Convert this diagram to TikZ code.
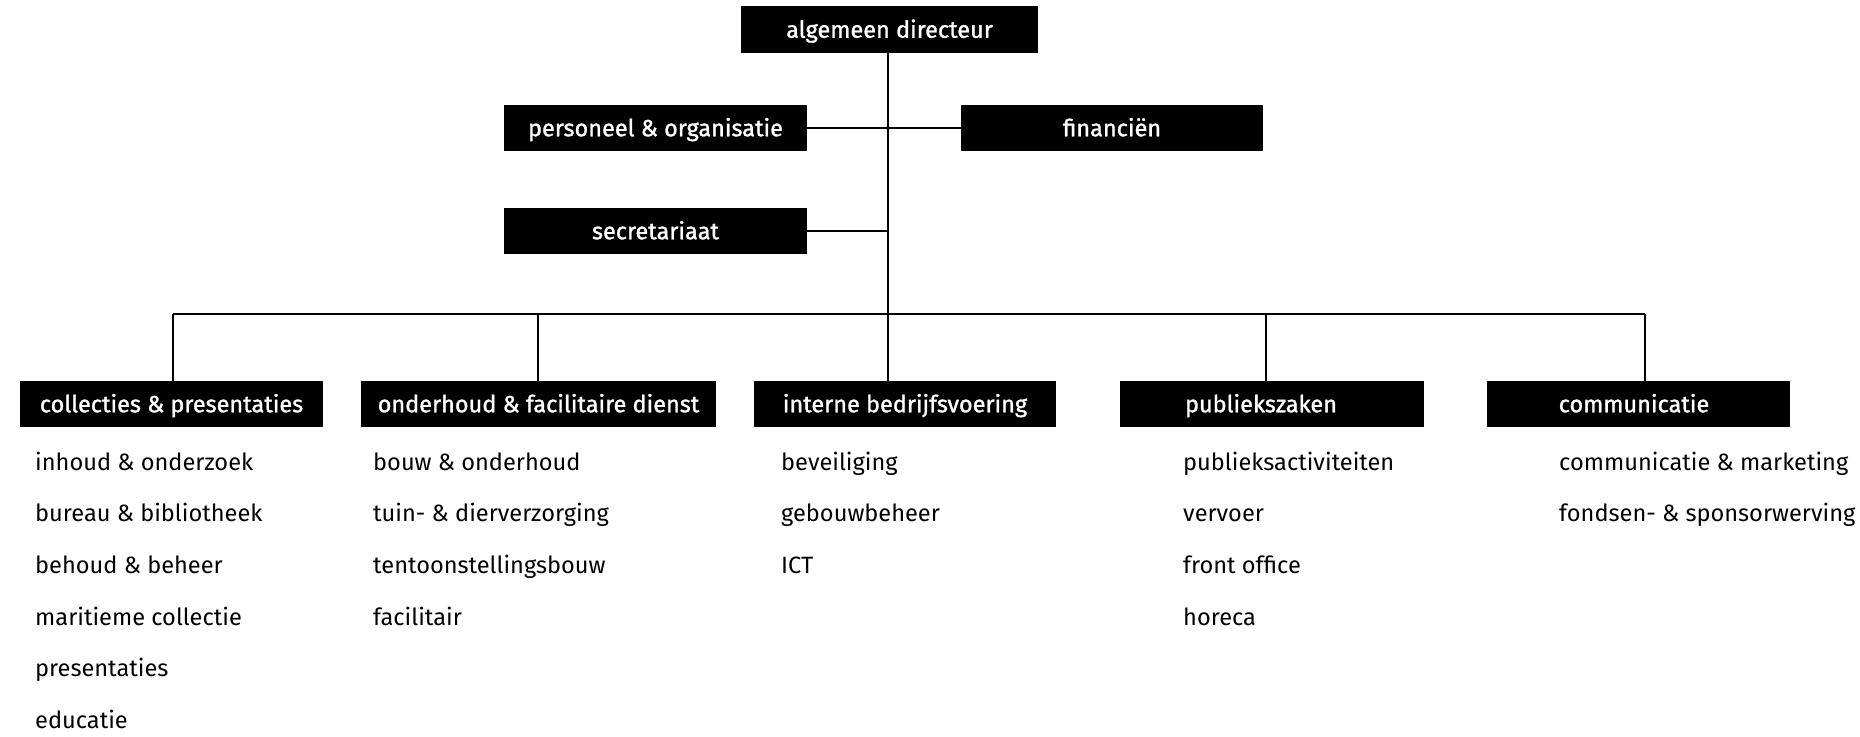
\documentclass[tikz,border=0pt]{standalone}
\usepackage{fontspec}
\setmainfont{Fira Sans}
\newfontfamily\hdfont[FakeBold=1.2]{Fira Sans}
\begin{document}
\begin{tikzpicture}[x=1pt,y=-1pt,
  box/.style={fill=black,text=white,inner sep=0pt,minimum height=46pt,text height=19.5pt,text depth=3pt,font=\hdfont\fontsize{23.5}{28}\selectfont},
  item/.style={anchor=base west,inner sep=0pt,font=\fontsize{23.6}{28}\selectfont},
  conn/.style={draw=black,line width=1.6pt}]
\useasboundingbox (0,0) rectangle (1860,736);
% top level
\node[box,minimum width=297pt,minimum height=47pt] (dir) at (889.5,29.5) {algemeen directeur};
\node[box,minimum width=303pt] (pers) at (655.5,128) {personeel \& organisatie};
\node[box,minimum width=302pt] (fin) at (1112,128) {financiën};
\node[box,minimum width=303pt] (sec) at (655.5,231) {secretariaat};
% departments
\node[box,minimum width=303pt] (col) at (171.5,404) {collecties \& presentaties};
\node[box,minimum width=355pt] (ond) at (538.5,404) {onderhoud \& facilitaire dienst};
\node[box,minimum width=302pt] (int) at (905,404) {interne bedrijfsvoering};
\node[box,minimum width=304pt] (pub) at (1272,404) {\hspace*{-22pt}publiekszaken};
\node[box,minimum width=303pt] (com) at (1638.5,404) {\hspace*{-9pt}communicatie};
% connectors
\coordinate (bar) at (888,314);
\draw[conn] (dir.south -| bar) -- (int.north -| bar);
\draw[conn] (pers.east) -- (fin.west);
\draw[conn] (sec.east) -- (sec.east -| bar);
\coordinate (barL) at (173,314);
\coordinate (barR) at (1645,314);
\draw[conn] (barL) -- (barR);
\draw[conn] (barL) -- (col.north -| barL);
\draw[conn] (538,314) coordinate (b2) -- (ond.north -| b2);
\draw[conn] (1266,314) coordinate (b4) -- (pub.north -| b4);
\draw[conn] (barR) -- (com.north -| barR);
% sub items
\foreach \t [count=\i from 0] in {inhoud \& onderzoek, bureau \& bibliotheek, behoud \& beheer, maritieme collectie, presentaties, educatie}
  \node[item] (cola\i) at (35,470+51.7*\i) {\t};
\foreach \t [count=\i from 0] in {bouw \& onderhoud, tuin- \& dierverzorging, tentoonstellingsbouw, facilitair}
  \node[item] (onda\i) at (373,470+51.7*\i) {\t};
\foreach \t [count=\i from 0] in {beveiliging, gebouwbeheer, ICT}
  \node[item] (inta\i) at (781,470+51.7*\i) {\t};
\foreach \t [count=\i from 0] in {publieksactiviteiten, vervoer, front office, horeca}
  \node[item] (puba\i) at (1183,470+51.7*\i) {\t};
\foreach \t [count=\i from 0] in {communicatie \& marketing, fondsen- \& sponsorwerving}
  \node[item] (coma\i) at (1559,470+51.7*\i) {\t};
\end{tikzpicture}
\end{document}
